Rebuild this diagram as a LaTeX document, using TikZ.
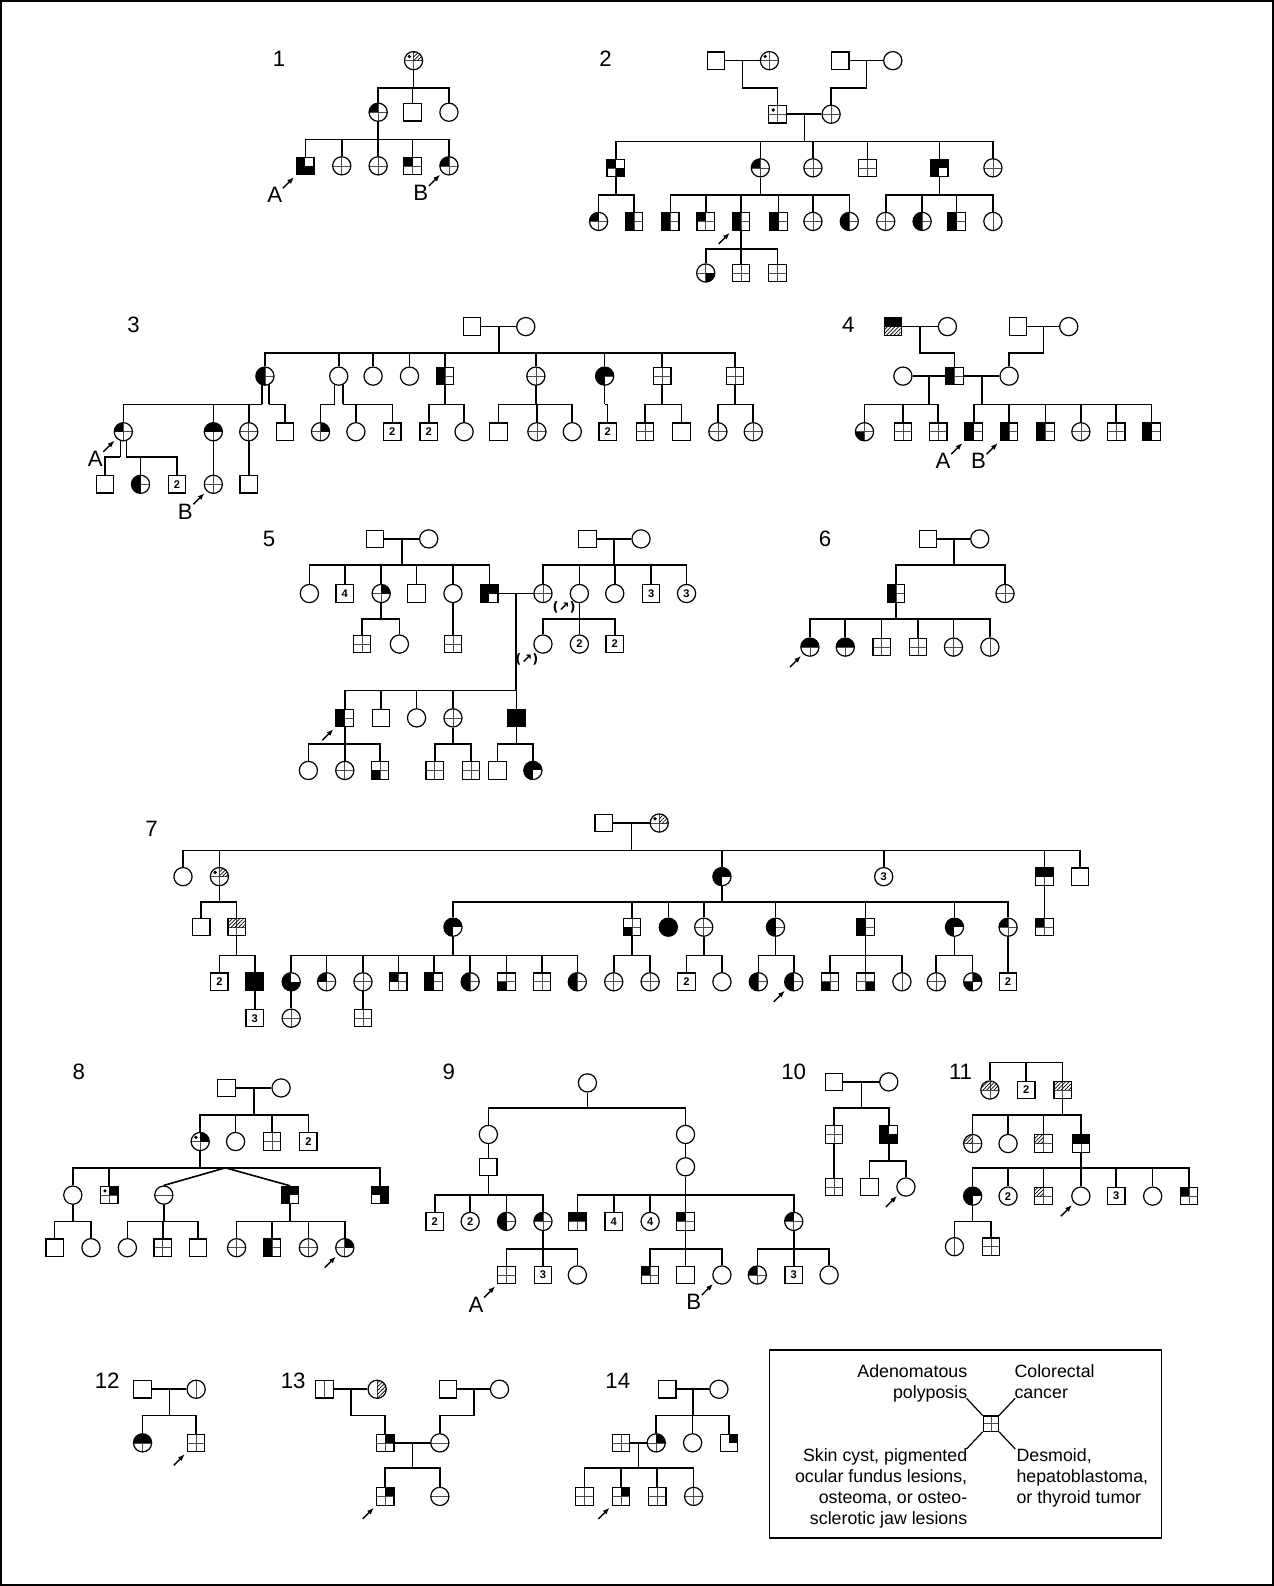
\documentclass[tikz,border=0pt]{standalone}
\usepackage{fontspec}
\setmainfont{Liberation Sans}
\newfontfamily\dvs{DejaVu Sans}
\usepackage{tikz}
\usetikzlibrary{
    arrows.meta,
    calc,
    patterns.meta
}
\pgfdeclarelayer{bg}
\pgfsetlayers{bg,main}

% quadrant code: UL UR LL LR (o/b/h), lines (x/h/v/n), dot (d/n)
\def\pp{path picture bounding box}
\newcommand\qf[2]{%
    \ifx#1b\fill[black] (\pp.center) rectangle (\pp.#2);\fi
    \ifx#1h\fill[hatch] (\pp.center) rectangle (\pp.#2);\fi}
\newcommand\symfill[6]{%
    \ifx#5x\draw[xl] (\pp.north) -- (\pp.south) (\pp.west) -- (\pp.east);\fi
    \ifx#5h\draw[xl] (\pp.west) -- (\pp.east);\fi
    \ifx#5v\draw[xl] (\pp.north) -- (\pp.south);\fi
    \qf#1{north west}\qf#2{north east}\qf#3{south west}\qf#4{south east}%
    \ifx#6d\fill[black] ($(\pp.center)+(-4.2,-4.2)$) circle (0.9pt);\fi}
\newcommand\pM[3]{\node[ml,sy=#3] (#1) at (#2) {};}
\newcommand\pF[3]{\node[fm,sy=#3] (#1) at (#2) {};}
\newcommand\pMn[3]{\node[ml,nm] (#1) at (#2) {#3};}
\newcommand\pFn[3]{\node[fm,nm] (#1) at (#2) {#3};}
% parent (node or coordinate), sibship height, children
\newcommand\kids[3]{%
    \draw[ln] (#1) -- (#1 |- 0,#2);
    \foreach \c in {#3}{\draw[ln] (\c.north) |- (#1 |- 0,#2);}}
\newcommand\prb[1]{\draw[pb] ($(#1.south west)+(-13,13)$) -- ($(#1.south west)+(-2,2)$);}
\newcommand\lbl[3]{\node[lab] (#1) at ($(#2.south west)+(-21,20)$) {#3};}

\begin{document}
\begin{tikzpicture}[
        x=0.5pt, y=-0.5pt,
        ln/.style={line width=0.8pt},
        ind/.style={draw, fill=white, line width=0.6pt, inner sep=0pt},
        ml/.style={ind, rectangle, minimum size=8.6pt},
        fm/.style={ind, circle, minimum size=9pt},
        sy/.style={path picture={\symfill#1}},
        nm/.style={font=\fontsize{5.5}{5.5}\selectfont\bfseries},
        xl/.style={line width=0.3pt, black!70},
        hatch/.style={pattern={Lines[angle=45,distance=1.3pt,line width=0.35pt]}},
        pb/.style={-{Latex[length=3.4pt,width=2.6pt]}, line width=0.7pt},
        lab/.style={font=\fontsize{11}{13}\selectfont, inner sep=0pt},
        leg/.style={font=\fontsize{8.8}{10.5}\selectfont, inner sep=0pt}
    ]
    \useasboundingbox (0,0) rectangle (1260,1568.6);
    \draw[line width=0.6pt] (1,1) rectangle (1259,1567.6);

    % 1
    \node[lab] (n1) at (276,58) {1};
    \pF{p1a1}{409,60}{ohooxd}
    \pF{p1b1}{374,111}{boooxn}
    \pM{p1b2}{408,111}{oooonn}
    \pF{p1b3}{444,111}{oooonn}
    \pM{p1c1}{302,164}{bobbnn}
    \pF{p1c2}{338,164}{ooooxn}
    \pF{p1c3}{374,164}{ooooxn}
    \pM{p1c4}{408,164}{boooxn}
    \pF{p1c5}{444,164}{boooxn}
    \prb{p1c1} \lbl{l1a}{p1c1}{A}
    \prb{p1c5} \lbl{l1b}{p1c5}{B}
    \begin{pgfonlayer}{bg}
        \kids{p1a1}{87}{p1b1,p1b2,p1b3}
        \kids{p1b1}{138}{p1c1,p1c2,p1c3,p1c4,p1c5}
    \end{pgfonlayer}

    % 2
    \node[lab] (n2) at (599,58) {2};
    \pM{p2a1}{708,60}{oooonn}
    \pF{p2a2}{761,60}{ooooxd}
    \pM{p2a3}{831,60}{oooonn}
    \pF{p2a4}{883,60}{oooonn}
    \pM{p2b1}{769,113}{ooooxd}
    \pF{p2b2}{822,113}{ooooxn}
    \pM{p2c1}{609,166}{boobxn}
    \pF{p2c2}{752,166}{boooxn}
    \pF{p2c3}{804,166}{ooooxn}
    \pM{p2c4}{858,166}{ooooxn}
    \pM{p2c5}{929,166}{bbbonn}
    \pF{p2c6}{982,166}{ooooxn}
    \pF{p2d1}{592,219}{boooxn}
    \pM{p2d2}{627,219}{boboxn}
    \pM{p2d3}{663,219}{boboxn}
    \pM{p2d4}{698,219}{boooxn}
    \pM{p2d5}{733,219}{boboxn}
    \pM{p2d6}{770,219}{boboxn}
    \pF{p2d7}{804,219}{ooooxn}
    \pF{p2d8}{840,219}{boboxn}
    \pF{p2d9}{876,219}{ooooxn}
    \pF{p2d10}{912,219}{boboxn}
    \pM{p2d11}{946,219}{boboxn}
    \pF{p2d12}{982,219}{oooovn}
    \pF{p2e1}{698,270}{ooobxn}
    \pM{p2e2}{733,270}{ooooxn}
    \pM{p2e3}{769,270}{ooooxn}
    \prb{p2d5}
    \begin{pgfonlayer}{bg}
        \draw[ln] (p2a1) -- (p2a2);
        \draw[ln] (p2a3) -- (p2a4);
        \draw[ln] (p2b1) -- (p2b2);
        \coordinate (m2a) at ($(p2a1)!.5!(p2a2)$);
        \coordinate (m2b) at ($(p2a3)!.5!(p2a4)$);
        \coordinate (m2c) at ($(p2b1)!.5!(p2b2)$);
        \draw[ln] (m2a) -- (m2a |- 0,87) -| (p2b1);
        \draw[ln] (m2b) -- (m2b |- 0,87) -| (p2b2);
        \kids{m2c}{140}{p2c1,p2c2,p2c3,p2c4,p2c5,p2c6}
        \kids{p2c1}{193}{p2d1,p2d2}
        \kids{p2c2}{193}{p2d3,p2d4,p2d5,p2d6,p2d7,p2d8}
        \kids{p2c5}{193}{p2d9,p2d10,p2d11,p2d12}
        \kids{p2d5}{246}{p2e1,p2e2,p2e3}
    \end{pgfonlayer}

    % 3
    \node[lab] (n3) at (132,321) {3};
    \pM{p3a1}{467,323}{oooonn}
    \pF{p3a2}{520,323}{oooonn}
    \pF{p3b1}{262,372}{boboxn}
    \pF{p3b2}{335,372}{oooonn}
    \pF{p3b3}{369,372}{oooonn}
    \pF{p3b4}{405,372}{oooonn}
    \pM{p3b5}{440,372}{boboxn}
    \pF{p3b6}{530,372}{ooooxn}
    \pF{p3b7}{598,372}{bbboxn}
    \pM{p3b8}{655,372}{ooooxn}
    \pM{p3b9}{727,372}{ooooxn}
    \pF{p3c1}{122,427}{boooxn}
    \pF{p3c2}{211,427}{bbooxn}
    \pF{p3c3}{246,427}{ooooxn}
    \pM{p3c4}{282,427}{oooonn}
    \pF{p3c5}{317,427}{obooxn}
    \pF{p3c6}{352,427}{oooonn}
    \pMn{p3c7}{388,427}{2}
    \pMn{p3c8}{424,427}{2}
    \pF{p3c9}{459,427}{oooonn}
    \pM{p3c10}{493,427}{oooonn}
    \pF{p3c11}{531,427}{ooooxn}
    \pF{p3c12}{566,427}{oooonn}
    \pMn{p3c13}{601,427}{2}
    \pM{p3c14}{638,427}{ooooxn}
    \pM{p3c15}{674,427}{oooonn}
    \pF{p3c16}{710,427}{ooooxn}
    \pF{p3c17}{745,427}{ooooxn}
    \pM{p3d1}{104,479}{oooonn}
    \pF{p3d2}{139,479}{boboxn}
    \pMn{p3d3}{175,479}{2}
    \pF{p3d4}{211,479}{ooooxn}
    \pM{p3d5}{246,479}{oooonn}
    \prb{p3c1} \lbl{l3a}{p3c1}{A}
    \prb{p3d4} \lbl{l3b}{p3d4}{B}
    \begin{pgfonlayer}{bg}
        \draw[ln] (p3a1) -- (p3a2);
        \coordinate (m3a) at ($(p3a1)!.5!(p3a2)$);
        \kids{m3a}{349}{p3b1,p3b2,p3b3,p3b4,p3b5,p3b6,p3b7,p3b8,p3b9}
        \coordinate (d3a) at ($(p3b1)+(-3,0)$);
        \coordinate (d3b) at ($(p3b1)+(4,0)$);
        \coordinate (d3c) at ($(p3b2)+(-4,0)$);
        \coordinate (d3d) at ($(p3b2)+(4,0)$);
        \kids{d3a}{400}{p3c1,p3c2,p3c3}
        \kids{d3b}{400}{p3c4}
        \kids{d3c}{400}{p3c5}
        \kids{d3d}{400}{p3c6,p3c7}
        \kids{p3b5}{400}{p3c8,p3c9}
        \kids{p3b6}{400}{p3c10,p3c11,p3c12}
        \kids{p3b7}{400}{p3c13}
        \kids{p3b8}{400}{p3c14,p3c15}
        \kids{p3b9}{400}{p3c16,p3c17}
        \coordinate (d3e) at ($(p3c1)+(-3,0)$);
        \coordinate (d3f) at ($(p3c1)+(3,0)$);
        \kids{d3e}{452}{p3d1}
        \kids{d3f}{452}{p3d2,p3d3}
        \kids{p3c2}{452}{p3d4}
        \kids{p3c3}{452}{p3d5}
    \end{pgfonlayer}

    % 4
    \node[lab] (n4) at (839,321) {4};
    \pM{p4a1}{883,323}{bbhhnn}
    \pF{p4a2}{937,323}{oooonn}
    \pM{p4a3}{1007,323}{oooonn}
    \pF{p4a4}{1057,323}{oooonn}
    \pF{p4b1}{893,372}{oooonn}
    \pM{p4b2}{944,372}{boboxn}
    \pF{p4b3}{998,372}{oooonn}
    \pF{p4c1}{855,427}{ooboxn}
    \pM{p4c2}{893,427}{ooooxn}
    \pM{p4c3}{928,427}{ooooxn}
    \pM{p4c4}{963,427}{boboxn}
    \pM{p4c5}{998,427}{boboxn}
    \pM{p4c6}{1034,427}{boboxn}
    \pF{p4c7}{1069,427}{ooooxn}
    \pM{p4c8}{1104,427}{ooooxn}
    \pM{p4c9}{1139,427}{boboxn}
    \prb{p4c4} \lbl{l4a}{p4c4}{A}
    \prb{p4c5} \lbl{l4b}{p4c5}{B}
    \begin{pgfonlayer}{bg}
        \draw[ln] (p4a1) -- (p4a2);
        \draw[ln] (p4a3) -- (p4a4);
        \draw[ln] (p4b1) -- (p4b2);
        \draw[ln] (p4b2) -- (p4b3);
        \coordinate (m4a) at ($(p4a1)!.5!(p4a2)$);
        \coordinate (m4b) at ($(p4a3)!.5!(p4a4)$);
        \coordinate (m4c) at ($(p4b1)!.5!(p4b2)$);
        \coordinate (m4d) at ($(p4b2)!.5!(p4b3)$);
        \draw[ln] (m4a) -- (m4a |- 0,349) -| (p4b2);
        \draw[ln] (m4b) -- (m4b |- 0,349) -| (p4b3);
        \kids{m4c}{400}{p4c1,p4c2,p4c3}
        \kids{m4d}{400}{p4c4,p4c5,p4c6,p4c7,p4c8,p4c9}
    \end{pgfonlayer}

    % 5
    \node[lab] (n5) at (266,533) {5};
    \pM{p5a1}{371,533}{oooonn}
    \pF{p5a2}{424,533}{oooonn}
    \pM{p5a3}{581,533}{oooonn}
    \pF{p5a4}{634,533}{oooonn}
    \pF{p5b1}{306,587}{oooonn}
    \pMn{p5b2}{341,587}{4}
    \pF{p5b3}{377,587}{obooxn}
    \pM{p5b4}{412,587}{oooonn}
    \pF{p5b5}{448,587}{oooonn}
    \pM{p5b6}{484,587}{bbbonn}
    \pF{p5b7}{537,587}{ooooxn}
    \pF{p5b8}{573,587}{oooonn}
    \pF{p5b9}{608,587}{oooonn}
    \pMn{p5b10}{644,587}{3}
    \pFn{p5b11}{679,587}{3}
    \pM{p5c1}{358,637}{ooooxn}
    \pF{p5c2}{395,637}{oooonn}
    \pM{p5c3}{448,637}{ooooxn}
    \pF{p5c4}{537,637}{oooonn}
    \pFn{p5c5}{573,637}{2}
    \pMn{p5c6}{608,637}{2}
    \pM{p5d1}{341,710}{boboxn}
    \pM{p5d2}{377,710}{oooonn}
    \pF{p5d3}{412,710}{oooonn}
    \pF{p5d4}{448,710}{ooooxn}
    \pM{p5d5}{511,710}{bbbbnn}
    \pF{p5e1}{305,762}{oooonn}
    \pF{p5e2}{341,762}{ooooxn}
    \pM{p5e3}{376,762}{ooboxn}
    \pM{p5e4}{430,762}{ooooxn}
    \pM{p5e5}{466,762}{ooooxn}
    \pM{p5e6}{492,762}{oooonn}
    \pF{p5e7}{527,762}{bbbonn}
    \node[font=\dvs\fontsize{6.5}{7}\selectfont\bfseries, inner sep=0pt] (q5a) at (558,601) {(↗)};
    \node[font=\dvs\fontsize{6.5}{7}\selectfont\bfseries, inner sep=0pt] (q5b) at (521,652) {(↗)};
    \prb{p5d1}
    \begin{pgfonlayer}{bg}
        \draw[ln] (p5a1) -- (p5a2);
        \draw[ln] (p5a3) -- (p5a4);
        \draw[ln] (p5b6) -- (p5b7);
        \coordinate (m5a) at ($(p5a1)!.5!(p5a2)$);
        \coordinate (m5b) at ($(p5a3)!.5!(p5a4)$);
        \coordinate (m5c) at ($(p5b6)!.5!(p5b7)$);
        \kids{m5a}{559}{p5b1,p5b2,p5b3,p5b4,p5b5,p5b6}
        \kids{m5b}{559}{p5b7,p5b8,p5b9,p5b10,p5b11}
        \kids{p5b3}{612}{p5c1,p5c2}
        \kids{p5b5}{612}{p5c3}
        \kids{p5b8}{612}{p5c4,p5c5,p5c6}
        \kids{m5c}{683}{p5d1,p5d2,p5d3,p5d4,p5d5}
        \kids{p5d1}{736}{p5e1,p5e2,p5e3}
        \kids{p5d4}{736}{p5e4,p5e5}
        \kids{p5d5}{736}{p5e6,p5e7}
    \end{pgfonlayer}

    % 6
    \node[lab] (n6) at (816,533) {6};
    \pM{p6a1}{918,533}{oooonn}
    \pF{p6a2}{969,533}{oooonn}
    \pM{p6b1}{886,587}{boboxn}
    \pF{p6b2}{994,587}{ooooxn}
    \pF{p6c1}{801,640}{bbooxn}
    \pF{p6c2}{836,640}{bbooxn}
    \pM{p6c3}{872,640}{ooooxn}
    \pM{p6c4}{908,640}{ooooxn}
    \pF{p6c5}{943,640}{ooooxn}
    \pF{p6c6}{979,640}{oooovn}
    \prb{p6c1}
    \begin{pgfonlayer}{bg}
        \draw[ln] (p6a1) -- (p6a2);
        \coordinate (m6a) at ($(p6a1)!.5!(p6a2)$);
        \kids{m6a}{559}{p6b1,p6b2}
        \kids{p6b1}{612}{p6c1,p6c2,p6c3,p6c4,p6c5,p6c6}
    \end{pgfonlayer}

    % 7
    \node[lab] (n7) at (150,820) {7};
    \pM{p7a1}{597,814}{oooonn}
    \pF{p7a2}{652,814}{ohooxd}
    \pF{p7b1}{181,867}{oooonn}
    \pF{p7b2}{217,867}{ohooxd}
    \pF{p7b3}{714,867}{bbbonn}
    \pFn{p7b4}{874,867}{3}
    \pM{p7b5}{1033,867}{bbooxn}
    \pM{p7b6}{1068,867}{oooonn}
    \pM{p7c1}{199,917}{oooonn}
    \pM{p7c2}{234,917}{hhooxn}
    \pF{p7c3}{448,917}{bbbonn}
    \pM{p7c4}{625,917}{ooboxn}
    \pF{p7c5}{661,917}{bbbbnn}
    \pF{p7c6}{696,917}{ooooxn}
    \pF{p7c7}{767,917}{boboxn}
    \pM{p7c8}{856,917}{boboxn}
    \pF{p7c9}{944,917}{bbbonn}
    \pF{p7c10}{997,917}{boooxn}
    \pM{p7c11}{1033,917}{boooxn}
    \pMn{p7d1}{217,971}{2}
    \pM{p7d2}{252,971}{bbbbnn}
    \pF{p7d3}{288,971}{bobbnn}
    \pF{p7d4}{323,971}{boooxn}
    \pF{p7d5}{359,971}{ooooxn}
    \pM{p7d6}{394,971}{boooxn}
    \pM{p7d7}{429,971}{boboxn}
    \pF{p7d8}{465,971}{boboxn}
    \pM{p7d9}{501,971}{ooboxn}
    \pM{p7d10}{536,971}{ooooxn}
    \pF{p7d11}{571,971}{boboxn}
    \pF{p7d12}{607,971}{ooooxn}
    \pF{p7d13}{643,971}{ooooxn}
    \pMn{p7d14}{679,971}{2}
    \pF{p7d15}{714,971}{oooonn}
    \pF{p7d16}{750,971}{boboxn}
    \pF{p7d17}{785,971}{boboxn}
    \pM{p7d18}{821,971}{ooboxn}
    \pM{p7d19}{856,971}{ooobxn}
    \pF{p7d20}{892,971}{oooovn}
    \pF{p7d21}{926,971}{ooooxn}
    \pF{p7d22}{962,971}{obboxn}
    \pMn{p7d23}{997,971}{2}
    \pMn{p7e1}{252,1007}{3}
    \pF{p7e2}{288,1007}{ooooxn}
    \pM{p7e3}{359,1007}{ooooxn}
    \prb{p7d17}
    \begin{pgfonlayer}{bg}
        \draw[ln] (p7a1) -- (p7a2);
        \coordinate (m7a) at ($(p7a1)!.5!(p7a2)$);
        \kids{m7a}{841}{p7b1,p7b2,p7b3,p7b4,p7b5,p7b6}
        \kids{p7b2}{892}{p7c1,p7c2}
        \kids{p7b3}{892}{p7c3,p7c4,p7c5,p7c6,p7c7,p7c8,p7c9,p7c10}
        \kids{p7b5}{892}{p7c11}
        \kids{p7c2}{945}{p7d1,p7d2}
        \kids{p7c3}{945}{p7d3,p7d4,p7d5,p7d6,p7d7,p7d8,p7d9,p7d10,p7d11}
        \kids{p7c4}{945}{p7d12,p7d13}
        \kids{p7c6}{945}{p7d14,p7d15}
        \kids{p7c7}{945}{p7d16,p7d17}
        \kids{p7c8}{945}{p7d18,p7d19,p7d20}
        \kids{p7c9}{945}{p7d21,p7d22}
        \kids{p7c10}{945}{p7d23}
        \kids{p7d2}{989}{p7e1}
        \kids{p7d3}{989}{p7e2}
        \kids{p7d5}{989}{p7e3}
    \end{pgfonlayer}

    % 8
    \node[lab] (n8) at (78,1060) {8};
    \pM{p8a1}{224,1076}{oooonn}
    \pF{p8a2}{278,1076}{oooonn}
    \pF{p8b1}{198,1129}{obooxd}
    \pF{p8b2}{233,1129}{oooonn}
    \pM{p8b3}{269,1129}{ooooxn}
    \pMn{p8b4}{305,1129}{2}
    \pF{p8c1}{72,1182}{oooonn}
    \pM{p8c2}{108,1182}{obooxd}
    \pF{p8c3}{162,1182}{oooohn}
    \pM{p8c4}{287,1182}{bbbonn}
    \pM{p8c5}{376,1182}{bbobnn}
    \pM{p8d1}{54,1234}{oooonn}
    \pF{p8d2}{90,1234}{oooonn}
    \pF{p8d3}{126,1234}{oooonn}
    \pM{p8d4}{161,1234}{ooooxn}
    \pM{p8d5}{196,1234}{oooonn}
    \pF{p8d6}{234,1234}{ooooxn}
    \pM{p8d7}{269,1234}{boboxn}
    \pF{p8d8}{305,1234}{ooooxn}
    \pF{p8d9}{341,1234}{obooxn}
    \prb{p8d9}
    \begin{pgfonlayer}{bg}
        \draw[ln] (p8a1) -- (p8a2);
        \coordinate (m8a) at ($(p8a1)!.5!(p8a2)$);
        \kids{m8a}{1103}{p8b1,p8b2,p8b3,p8b4}
        \kids{p8b1}{1155}{p8c1,p8c2,p8c5}
        \coordinate (t8) at (223,1155);
        \draw[ln] (t8) -- (p8c3.north);
        \draw[ln] (t8) -- (p8c4.north);
        \kids{p8c1}{1208}{p8d1,p8d2}
        \kids{p8c3}{1208}{p8d3,p8d4,p8d5}
        \kids{p8c4}{1208}{p8d6,p8d7,p8d8,p8d9}
    \end{pgfonlayer}

    % 9
    \node[lab] (n9) at (444,1060) {9};
    \pF{p9a1}{581,1071}{oooonn}
    \pF{p9b1}{483,1122}{oooonn}
    \pF{p9b2}{678,1122}{oooonn}
    \pM{p9c1}{483,1154}{oooonn}
    \pF{p9c2}{678,1154}{oooonn}
    \pMn{p9d1}{430,1208}{2}
    \pFn{p9d2}{465,1208}{2}
    \pF{p9d3}{501,1208}{boboxn}
    \pF{p9d4}{537,1208}{boooxn}
    \pM{p9d5}{571,1208}{bbooxn}
    \pMn{p9d6}{607,1208}{4}
    \pFn{p9d7}{643,1208}{4}
    \pM{p9d8}{678,1208}{boooxn}
    \pF{p9d9}{785,1208}{boooxn}
    \pM{p9e1}{501,1261}{ooooxn}
    \pMn{p9e2}{537,1261}{3}
    \pF{p9e3}{571,1261}{oooonn}
    \pM{p9e4}{643,1261}{boooxn}
    \pM{p9e5}{678,1261}{oooonn}
    \pF{p9e6}{714,1261}{oooonn}
    \pF{p9e7}{749,1261}{boooxn}
    \pMn{p9e8}{785,1261}{3}
    \pF{p9e9}{820,1261}{oooonn}
    \prb{p9e1} \lbl{l9a}{p9e1}{A}
    \prb{p9e6} \lbl{l9b}{p9e6}{B}
    \begin{pgfonlayer}{bg}
        \kids{p9a1}{1096}{p9b1,p9b2}
        \kids{p9b1}{1138}{p9c1}
        \kids{p9b2}{1138}{p9c2}
        \kids{p9c1}{1182}{p9d1,p9d2,p9d3,p9d4}
        \kids{p9c2}{1182}{p9d5,p9d6,p9d7,p9d8,p9d9}
        \kids{p9d4}{1235}{p9e1,p9e2,p9e3}
        \kids{p9d8}{1235}{p9e4,p9e5,p9e6}
        \kids{p9d9}{1235}{p9e7,p9e8,p9e9}
    \end{pgfonlayer}

    % 10
    \node[lab] (n10) at (785,1060) {10};
    \pM{p10a1}{825,1070}{oooonn}
    \pF{p10a2}{879,1070}{oooonn}
    \pM{p10b1}{825,1122}{ooooxn}
    \pM{p10b2}{879,1122}{bobbnn}
    \pM{p10c1}{825,1174}{ooooxn}
    \pM{p10c2}{860,1174}{oooonn}
    \pF{p10c3}{896,1174}{oooonn}
    \prb{p10c3}
    \begin{pgfonlayer}{bg}
        \draw[ln] (p10a1) -- (p10a2);
        \coordinate (m10a) at ($(p10a1)!.5!(p10a2)$);
        \kids{m10a}{1096}{p10b1,p10b2}
        \kids{p10b1}{1148}{p10c1}
        \kids{p10b2}{1148}{p10c2,p10c3}
    \end{pgfonlayer}

    % 11
    \node[lab] (n11) at (950,1060) {11};
    \pF{p11a1}{979,1078}{hhooxn}
    \pMn{p11a2}{1015,1078}{2}
    \pM{p11a3}{1051,1078}{hhooxn}
    \pF{p11b1}{962,1131}{hoooxn}
    \pF{p11b2}{997,1131}{oooonn}
    \pM{p11b3}{1032,1131}{hoooxn}
    \pM{p11b4}{1069,1131}{bbooxn}
    \pF{p11c1}{962,1183}{bbbonn}
    \pFn{p11c2}{997,1183}{2}
    \pM{p11c3}{1032,1183}{hoooxn}
    \pF{p11c4}{1069,1183}{oooonn}
    \pMn{p11c5}{1104,1183}{3}
    \pF{p11c6}{1140,1183}{oooonn}
    \pM{p11c7}{1176,1183}{boooxn}
    \pF{p11d1}{944,1233}{oooovn}
    \pM{p11d2}{980,1233}{ooooxn}
    \prb{p11c4}
    \begin{pgfonlayer}{bg}
        \coordinate (t11) at (1015,1051);
        \kids{t11}{1051}{p11a1,p11a2,p11a3}
        \kids{p11a3}{1103}{p11b1,p11b2,p11b3,p11b4}
        \kids{p11b4}{1155}{p11c1,p11c2,p11c3,p11c4,p11c5,p11c6,p11c7}
        \kids{p11c1}{1208}{p11d1,p11d2}
    \end{pgfonlayer}

    % 12
    \node[lab] (n12) at (106,1366) {12};
    \pM{p12a1}{141,1374}{oooonn}
    \pF{p12a2}{194,1374}{oooovn}
    \pF{p12b1}{141,1427}{bbooxn}
    \pM{p12b2}{194,1427}{ooooxn}
    \prb{p12b2}
    \begin{pgfonlayer}{bg}
        \draw[ln] (p12a1) -- (p12a2);
        \coordinate (m12a) at ($(p12a1)!.5!(p12a2)$);
        \kids{m12a}{1400}{p12b1,p12b2}
    \end{pgfonlayer}

    % 13
    \node[lab] (n13) at (290,1366) {13};
    \pM{p13a1}{321,1374}{oooovn}
    \pF{p13a2}{373,1374}{ohohvn}
    \pM{p13a3}{443,1374}{oooonn}
    \pF{p13a4}{494,1374}{oooonn}
    \pM{p13b1}{381,1427}{obooxn}
    \pF{p13b2}{435,1427}{oooohn}
    \pM{p13c1}{381,1480}{obooxn}
    \pF{p13c2}{435,1480}{oooohn}
    \prb{p13c1}
    \begin{pgfonlayer}{bg}
        \draw[ln] (p13a1) -- (p13a2);
        \draw[ln] (p13a3) -- (p13a4);
        \draw[ln] (p13b1) -- (p13b2);
        \coordinate (m13a) at ($(p13a1)!.5!(p13a2)$);
        \coordinate (m13b) at ($(p13a3)!.5!(p13a4)$);
        \coordinate (m13c) at ($(p13b1)!.5!(p13b2)$);
        \draw[ln] (m13a) -- (m13a |- 0,1400) -| (p13b1);
        \draw[ln] (m13b) -- (m13b |- 0,1400) -| (p13b2);
        \kids{m13c}{1452}{p13c1,p13c2}
    \end{pgfonlayer}

    % 14
    \node[lab] (n14) at (611,1366) {14};
    \pM{p14a1}{660,1374}{oooonn}
    \pF{p14a2}{711,1374}{oooonn}
    \pM{p14b1}{614,1427}{ooooxn}
    \pF{p14b2}{649,1427}{obooxn}
    \pF{p14b3}{685,1427}{oooonn}
    \pM{p14b4}{721,1427}{oboonn}
    \pM{p14c1}{578,1480}{ooooxn}
    \pM{p14c2}{614,1480}{obooxn}
    \pM{p14c3}{650,1480}{ooooxn}
    \pF{p14c4}{686,1480}{ooooxn}
    \prb{p14c2}
    \begin{pgfonlayer}{bg}
        \draw[ln] (p14a1) -- (p14a2);
        \draw[ln] (p14b1) -- (p14b2);
        \coordinate (m14a) at ($(p14a1)!.5!(p14a2)$);
        \coordinate (m14b) at ($(p14b1)!.5!(p14b2)$);
        \kids{m14a}{1400}{p14b2,p14b3,p14b4}
        \kids{m14b}{1452}{p14c1,p14c2,p14c3,p14c4}
    \end{pgfonlayer}

    % key
    \draw[line width=0.7pt] (761,1335) rectangle (1149,1521);
    \node[ml, minimum size=7.5pt, sy=ooooxn] (key) at (980,1408) {};
    \draw[line width=0.6pt] (key.north west) -- ++(-16,-17);
    \draw[line width=0.6pt] (key.north east) -- ++(16,-17);
    \draw[line width=0.6pt] (key.south west) -- ++(-16,17);
    \draw[line width=0.6pt] (key.south east) -- ++(16,17);
    \node[leg, anchor=north east, align=right] (k1) at (957,1349) {Adenomatous\\polyposis};
    \node[leg, anchor=north west, align=left] (k2) at (1003,1349) {Colorectal\\cancer};
    \node[leg, anchor=north east, align=right] (k3) at (957,1432) {Skin cyst, pigmented\\ocular fundus lesions,\\osteoma, or osteo-\\sclerotic jaw lesions};
    \node[leg, anchor=north west, align=left] (k4) at (1005,1432) {Desmoid,\\hepatoblastoma,\\or thyroid tumor};
\end{tikzpicture}
\end{document}
